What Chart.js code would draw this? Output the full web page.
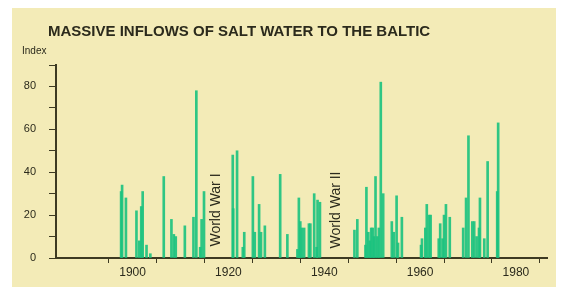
<!DOCTYPE html>
<html>
<head>
<meta charset="utf-8">
<script src="https://cdn.jsdelivr.net/npm/chart.js@4.4.0/dist/chart.umd.min.js"></script>
<style>
  html, body { margin: 0; padding: 0; background: #ffffff; }
  #wrap { width: 561px; height: 296px; }
</style>
</head>
<body>
<div id="wrap"><canvas id="inflows" width="561" height="296"></canvas></div>
<script>
// inflow years (fractional) and index values
const years = [
  1897.6, 1897.8, 1898.6, 1900.8, 1901.4, 1901.8, 1902.1, 1902.9, 1903.7,
  1906.5, 1908.1, 1908.6, 1909.0, 1910.9, 1912.7, 1913.3, 1914.1, 1914.4, 1914.9,
  1920.9, 1921.0, 1921.8, 1923.0, 1923.3, 1925.1, 1925.5, 1926.4, 1926.8, 1927.6,
  1930.8, 1932.3, 1934.4, 1934.7, 1935.0, 1935.3, 1935.8, 1936.8, 1937.1, 1937.9,
  1938.4, 1938.6, 1939.1,
  1946.3, 1946.9, 1948.6, 1948.8, 1949.2, 1949.5, 1949.8, 1950.1, 1950.4, 1950.7,
  1951.1, 1951.4, 1951.8, 1952.3, 1954.1, 1954.5, 1955.1, 1955.4, 1956.2,
  1960.2, 1960.4, 1961.1, 1961.4, 1961.9, 1962.2, 1963.9, 1964.2, 1964.7, 1965.0,
  1965.4, 1966.2,
  1969.0, 1969.6, 1970.1, 1970.9, 1971.3, 1971.8, 1972.3, 1972.5, 1973.4, 1974.1,
  1976.1, 1976.3
];
const index_values = [
  31, 34, 28, 22, 8, 24, 31, 6, 2,
  38, 18, 11, 10, 15, 19, 78, 5, 18, 31,
  48, 23, 50, 5, 12, 38, 12, 25, 12, 15,
  39, 11, 4, 28, 17, 14, 14, 16, 16, 30,
  5, 27, 26,
  13, 18, 6, 33, 12, 8, 14, 14, 10, 38,
  10, 14, 82, 30, 17, 12, 29, 7, 19,
  6, 9, 14, 25, 20, 20, 9, 16, 9, 20,
  25, 19,
  14, 28, 57, 17, 17, 10, 14, 28, 9, 45,
  31, 63
];
const war_labels = ["World War I", "World War II"];
const war_years = [1917.4, 1942.4];
const x_tick_years = [1900, 1910, 1920, 1930, 1940, 1950, 1960, 1970, 1980];
const y_tick_values = [0, 10, 20, 30, 40, 50, 60, 70, 80, 90];

const title_text = "MASSIVE INFLOWS OF SALT WATER TO THE BALTIC";
const axis_title = "Index";

const ink = "#2b2a1c";
const axis_color = "#3d3a22";
const paper = "#f3ebb7";
const bar_green = "rgba(26, 194, 126, 0.9)";

// paper background, heading and the two war notes
const decorations = {
  id: "decorations",
  beforeDraw: (chart) => {
    const c = chart.ctx;
    c.save();
    c.fillStyle = "#ffffff";
    c.fillRect(0, 0, chart.width, chart.height);
    c.fillStyle = paper;
    c.fillRect(12, 8, 544, 279);
    c.restore();
  },
  afterDraw: (chart) => {
    const c = chart.ctx;
    const x_scale = chart.scales.x;
    const area = chart.chartArea;
    c.save();
    c.fillStyle = ink;
    c.textBaseline = "middle";
    c.textAlign = "left";
    c.font = "bold 15px 'Liberation Sans', Arial, sans-serif";
    c.fillText(title_text, 48, 32);
    c.font = "10px 'Liberation Sans', Arial, sans-serif";
    c.fillText(axis_title, 22, 51);

    c.font = "14px 'Liberation Sans', Arial, sans-serif";
    c.textAlign = "center";
    war_labels.forEach((label, i) => {
      const px = x_scale.getPixelForValue(war_years[i]);
      c.save();
      c.translate(px, area.bottom - 48);
      c.rotate(-Math.PI / 2);
      c.fillText(label, 0, 0);
      c.restore();
    });
    c.restore();
  },
};

const ctx = document.getElementById("inflows").getContext("2d");
const inflow_chart = new Chart(ctx, {
  type: "bar",
  data: {
    datasets: [
      {
        label: "Inflow index",
        data: years.map((yr, i) => ({ x: yr, y: index_values[i] })),
        backgroundColor: bar_green,
        borderWidth: 0,
        barThickness: 2,
        grouped: false,
      },
    ],
  },
  options: {
    responsive: false,
    animation: false,
    devicePixelRatio: 1,
    layout: {
      padding: { left: 0, top: 65, right: 14, bottom: 0 },
    },
    plugins: {
      legend: { display: false },
      tooltip: { enabled: false },
      title: { display: false },
    },
    scales: {
      x: {
        type: "linear",
        min: 1889.7,
        max: 1980.8,
        afterBuildTicks: (scale) => {
          scale.ticks = x_tick_years.map((v) => ({ value: v }));
        },
        afterFit: (scale) => {
          scale.height = 38;
        },
        ticks: {
          autoSkip: false,
          maxRotation: 0,
          padding: 2,
          color: ink,
          font: { family: "'Liberation Sans', Arial, sans-serif", size: 12 },
          callback: (v) => (v % 20 === 0 ? String(v) : ""),
        },
        grid: {
          drawOnChartArea: false,
          drawTicks: true,
          tickLength: 5,
          color: axis_color,
          lineWidth: 1,
        },
        border: { display: true, color: axis_color, width: 2 },
      },
      y: {
        min: 0,
        max: 90,
        afterBuildTicks: (scale) => {
          scale.ticks = y_tick_values.map((v) => ({ value: v }));
        },
        afterFit: (scale) => {
          scale.width = 56;
        },
        ticks: {
          autoSkip: false,
          padding: 13,
          color: ink,
          font: { family: "'Liberation Sans', Arial, sans-serif", size: 11 },
          callback: (v) => (v % 20 === 0 && v <= 80 ? String(v) : ""),
        },
        grid: {
          drawOnChartArea: false,
          drawTicks: true,
          tickLength: 7,
          color: axis_color,
          lineWidth: 1,
        },
        border: { display: true, color: axis_color, width: 2 },
      },
    },
  },
  plugins: [decorations],
});
</script>
</body>
</html>
